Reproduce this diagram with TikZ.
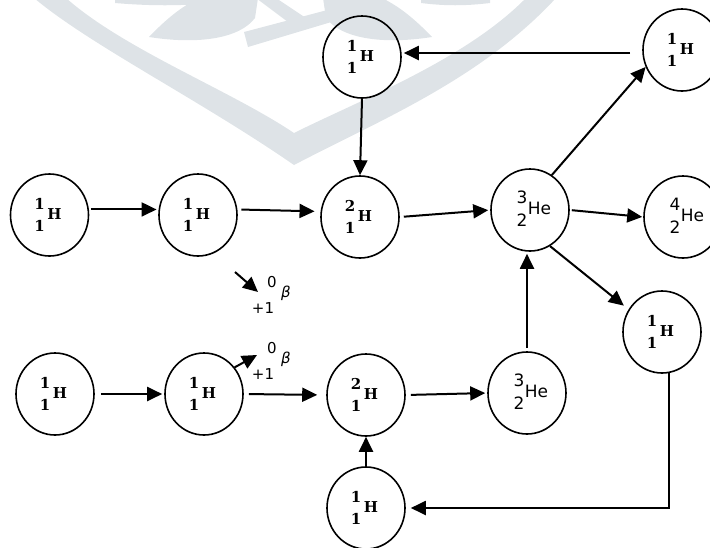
\documentclass[tikz,border=0pt]{standalone}
\usepackage{fontspec}
\newfontfamily\hfont{DejaVu Serif}[BoldFont={DejaVu Serif Bold}]
\newfontfamily\hefont{DejaVu Sans}
\usetikzlibrary{shapes.geometric,arrows.meta}
\definecolor{wm}{RGB}{222,227,231}
\begin{document}
\begin{tikzpicture}[x=1pt,y=-1pt,
 nuc/.style={ellipse,draw,line width=1.6pt,minimum width=78pt,minimum height=82pt,inner sep=0pt},
 arr/.style={line width=2pt,-{Triangle[length=15pt,width=14pt]}},
 hl/.style={font=\hfont\bfseries\fontsize{15pt}{15pt}\selectfont,inner sep=0pt},
 hel/.style={font=\hefont\fontsize{17pt}{17pt}\selectfont,inner sep=0pt},
 bl/.style={font=\hefont\fontsize{15pt}{15pt}\selectfont,inner sep=0pt},
 isoH/.style n args={3}{label={[hl,xshift=-10pt,yshift=11.5pt]center:#1},label={[hl,xshift=-10pt,yshift=-10.5pt]center:#2},label={[hl,xshift=5pt,yshift=1pt]center:#3}},
 isoHe/.style n args={3}{label={[hel,xshift=-8pt,yshift=12.5pt]center:#1},label={[hel,xshift=-8pt,yshift=-10pt]center:#2},label={[hel,xshift=9.5pt,yshift=2pt]center:#3}},
 betalbl/.style={inner sep=0pt,label={[bl,xshift=-3pt,yshift=13pt]center:0},label={[bl,xshift=-12pt,yshift=-13.5pt]center:+1},label={[bl,xshift=11pt,yshift=1.5pt]center:\itshape β}},
]
\useasboundingbox (0,0) rectangle (710,547);
% watermark
\fill[wm] (34,-2) .. controls (90,45) and (200,100) .. (294,165) -- (294,133) .. controls (230,90) and (125,50) .. (66,-2) -- cycle;
\fill[wm] (556,-2) .. controls (480,80) and (380,120) .. (294,165) -- (294,133) .. controls (360,100) and (465,60) .. (526,-2) -- cycle;
\fill[wm] (149,37) .. controls (170,15) and (185,5) .. (199,-2) -- (258,-2) -- (255,18) .. controls (240,38) and (200,45) .. cycle;
\fill[wm] (432,37) .. controls (411,15) and (396,5) .. (382,-2) -- (323,-2) -- (326,18) .. controls (341,38) and (381,45) .. cycle;
\fill[wm] (244,32) -- (335,8) -- (338,20) -- (248,47) -- cycle;
\fill[wm] (256,-2) -- (276,-2) -- (306,18) -- (292,25) -- cycle;
\fill[wm] (115,-2) -- (214,-2) -- (214,3) .. controls (180,6) and (150,6) .. (115,3) -- cycle;
\fill[wm] (421,-2) -- (490,-2) -- (490,3) .. controls (465,6) and (445,6) .. (421,3) -- cycle;
% nodes
\node[nuc,isoH={1}{1}{H}] (t1) at (362,57) {};
\node[nuc,isoH={1}{1}{H}] (tr) at (682,50) {};
\node[nuc,isoH={1}{1}{H}] (a1) at (49.5,215) {};
\node[nuc,isoH={1}{1}{H}] (a2) at (198,215) {};
\node[nuc,isoH={2}{1}{H}] (a3) at (360,217) {};
\node[nuc,isoHe={3}{2}{He}] (a4) at (530,210) {};
\node[nuc,isoHe={4}{2}{He}] (a5) at (683,217) {};
\node[nuc,isoH={1}{1}{H}] (r) at (662,332) {};
\node[nuc,isoH={1}{1}{H}] (b1) at (55,394) {};
\node[nuc,isoH={1}{1}{H}] (b2) at (204,394) {};
\node[nuc,isoH={2}{1}{H}] (b3) at (366,395) {};
\node[nuc,isoHe={3}{2}{He}] (b4) at (527,393) {};
\node[nuc,isoH={1}{1}{H}] (b5) at (366,508) {};
\node[betalbl] (bt1) at (275,295) {};
\node[betalbl] (bt2) at (275,361) {};
\coordinate (bs1) at (235,272);
\coordinate (be1) at (258,292);
\coordinate (be2) at (257,355);
% connectors
\draw[arr,shorten <=2pt,shorten >=2pt] (a1.8) -- (a2.172);
\draw[arr,shorten <=4pt,shorten >=6pt] (a2.8) -- (a3.172);
\draw[arr,shorten <=4pt,shorten >=2pt] (a3.east) -- (a4.west);
\draw[arr,shorten <=2pt,shorten >=1pt] (a4.east) -- (a5.west);
\draw[arr] (a4.58) -- (tr.205);
\draw[arr,shorten >=6pt] (a4.299) -- (r.146);
\draw[arr,shorten <=12pt] ([yshift=-3pt]tr.west) -- ([yshift=-3pt,xshift=2pt]tr.west -| t1.east);
\draw[arr] (t1.south) -- (a3.north);
\draw[arr,shorten <=6pt,shorten >=2pt] (b1.east) -- (b2.west);
\draw[arr,shorten <=5pt,shorten >=9pt] (b2.east) -- (b3.west);
\draw[arr,shorten <=5pt,shorten >=2pt] (b3.east) -- (b4.west);
\draw[arr,shorten <=3pt,shorten >=2pt] (b4.north) -- (b4.north |- a4.south);
\draw[arr,shorten >=5pt] (r.280) |- (b5.east);
\draw[arr] (b5.north) -- (b3.south);
\draw[arr] (bs1) -- (be1);
\draw[arr] (b2.41) -- (be2);
\end{tikzpicture}
\end{document}
